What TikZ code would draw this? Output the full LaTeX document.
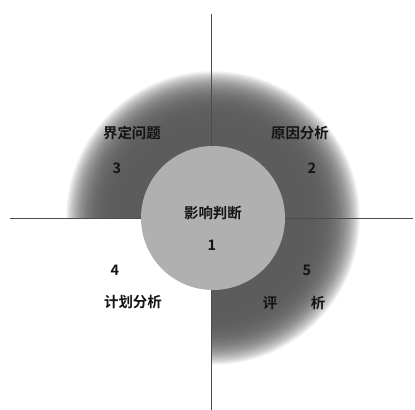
\documentclass[tikz,border=0pt]{standalone}
\usepackage{fontspec}
\newfontfamily\cjk{Noto Sans CJK SC Bold}
\tikzset{
  lbl/.style={font=\cjk\fontsize{14.5}{14.5}\selectfont, text=black!92, inner sep=0pt},
  axis/.style={draw=black!70, line width=0.7bp}
}
\begin{document}
\begin{tikzpicture}[x=1bp,y=-1bp]
  \useasboundingbox (0,0) rectangle (415,410);
  \fill[white] (0,0) rectangle (415,410);
  % outer shaded disc, built from concentric rings
  \foreach \i in {0,...,60}{
    \pgfmathsetmacro\t{1-\i/60}
    \pgfmathsetmacro\r{72+76*\t}
    \pgfmathsetmacro\d{64*(1-pow(\t,5))}
    \fill[black!\d] (213,218) circle (\r);
  }
  % blank lower-left quadrant
  \fill[white] (0,218) rectangle (211,410);
  % axes
  \draw[axis] (211,14) -- (211,410);
  \draw[axis] (10,218) -- (413,218);
  % inner disc
  \fill[black!31] (213,218) circle (72);
  % labels
  \node[lbl] (q3t) at (132,133) {界定问题};
  \node[lbl] (q3n) at (117,168) {3};
  \node[lbl] (q2t) at (300,133) {原因分析};
  \node[lbl] (q2n) at (312,168) {2};
  \node[lbl] (c1t) at (213,213) {影响判断};
  \node[lbl] (c1n) at (212,245) {1};
  \node[lbl] (q4n) at (115,270) {4};
  \node[lbl] (q4t) at (133,302) {计划分析};
  \node[lbl] (q5n) at (307,270) {5};
  \node[lbl] (q5a) at (270,303) {评};
  \node[lbl] (q5b) at (318,303) {析};
\end{tikzpicture}
\end{document}
